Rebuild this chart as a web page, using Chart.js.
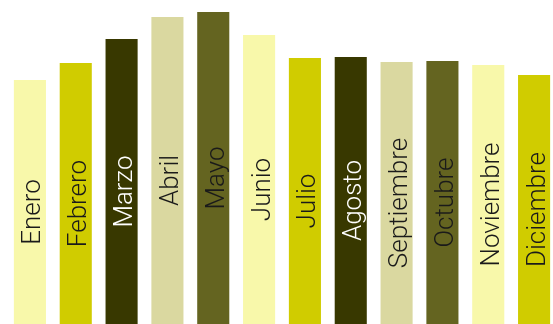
<!DOCTYPE html>
<html>
<head>
<meta charset="utf-8">
<script src="https://cdn.jsdelivr.net/npm/chart.js@4"></script>
<style>
  html, body { margin: 0; padding: 0; background: #fff; overflow: hidden; width: 553px; height: 324px; }
  #wrap { position: relative; width: 557px; height: 344px; }
</style>
</head>
<body>
<div id="wrap"><canvas id="bar-chart"></canvas></div>
<script>
const months = ["Enero","Febrero","Marzo","Abril","Mayo","Junio","Julio","Agosto","Septiembre","Octubre","Noviembre","Diciembre"];
const values = [264, 281, 305, 327, 332, 309, 286, 287, 282, 283, 279, 269];
const palette = ["#F8F8AA", "#D0CC00", "#383800", "#DAD8A0", "#646420"];
const textColors = ["#1a1a1a", "#1a1a1a", "#ffffff", "#1a1a1a", "#1a1a1a"];

const barColors = months.map((m, i) => palette[i % palette.length]);
const labelColors = months.map((m, i) => textColors[i % textColors.length]);

// writes the month name up the middle of each bar
const insideLabels = {
    id: 'insideLabels',
    afterDatasetsDraw(chart) {
        const ctx = chart.ctx;
        const meta = chart.getDatasetMeta(0);
        ctx.save();
        ctx.font = '300 26px Roboto, "Liberation Sans", sans-serif';
        ctx.textAlign = 'center';
        ctx.textBaseline = 'alphabetic';
        meta.data.forEach((bar, i) => {
            const cy = (bar.y + bar.base) / 2;
            ctx.save();
            ctx.translate(bar.x, cy);
            ctx.rotate(-Math.PI / 2);
            ctx.fillStyle = labelColors[i];
            ctx.fillText(months[i], 0, 10.5);
            ctx.restore();
        });
        ctx.restore();
    }
};

const barChart = document.getElementById("bar-chart").getContext("2d");

let chart = new Chart(barChart, {
    type: 'bar',
    data: {
        labels: months,
        datasets: [{
            data: values,
            backgroundColor: barColors,
            borderWidth: 0,
            barPercentage: 0.7,
            categoryPercentage: 1
        }]
    },
    options: {
        responsive: true,
        maintainAspectRatio: false,
        animation: false,
        layout: {
            padding: { left: 7, right: 0, top: 0, bottom: 0 }
        },
        plugins: {
            legend: { display: false },
            tooltip: { enabled: false }
        },
        scales: {
            x: { display: false },
            y: { display: false, min: 0, max: 344 }
        }
    },
    plugins: [insideLabels]
});
</script>
</body>
</html>
